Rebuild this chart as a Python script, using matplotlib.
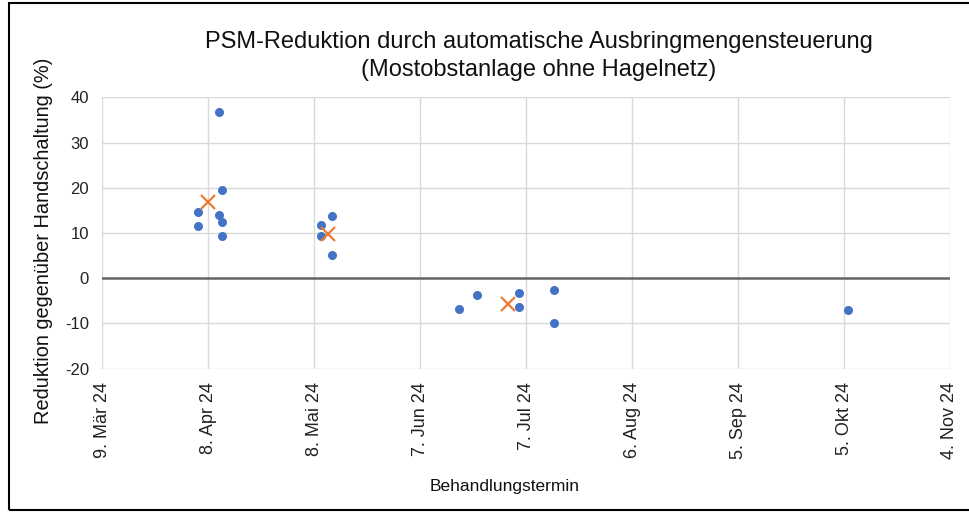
import matplotlib
matplotlib.use("Agg")
import matplotlib.pyplot as plt
import matplotlib.dates as mdates
from matplotlib.patches import Rectangle
import datetime as dt

plt.rcParams['font.family'] = ['Liberation Sans', 'DejaVu Sans']

# ---- data ----
point_dates = ["2024-04-11", "2024-04-12", "2024-04-05", "2024-04-05", "2024-04-11",
               "2024-04-12", "2024-04-12",
               "2024-05-10", "2024-05-10", "2024-05-13", "2024-05-13",
               "2024-06-18", "2024-06-23", "2024-07-05", "2024-07-05",
               "2024-07-15", "2024-07-15", "2024-10-06"]
point_values = [36.7, 19.6, 14.6, 11.6, 14.0, 12.4, 9.3,
                11.8, 9.3, 13.7, 5.2,
                -6.7, -3.7, -3.2, -6.3, -2.6, -10.0, -7.1]
mean_dates = ["2024-04-08", "2024-05-12", "2024-07-02"]
mean_values = [16.8, 9.8, -5.6]

tick_dates = ["2024-03-09", "2024-04-08", "2024-05-08", "2024-06-07", "2024-07-07",
              "2024-08-06", "2024-09-05", "2024-10-05", "2024-11-04"]
tick_labels = ["9. Mär 24", "8. Apr 24", "8. Mai 24", "7. Jun 24", "7. Jul 24",
               "6. Aug 24", "5. Sep 24", "5. Okt 24", "4. Nov 24"]
y_ticks = [-20, -10, 0, 10, 20, 30, 40]

title_line1 = "PSM-Reduktion durch automatische Ausbringmengensteuerung"
title_line2 = "(Mostobstanlage ohne Hagelnetz)"
x_label = "Behandlungstermin"
y_label = "Reduktion gegenüber Handschaltung (%)"

def to_num(s):
    return mdates.date2num(dt.datetime.strptime(s, "%Y-%m-%d"))

W, H = 969, 512
fig = plt.figure(figsize=(W / 100, H / 100), dpi=100)
ax = fig.add_axes([102.3 / W, 1 - 368.7 / H, (950 - 102.3) / W, (368.7 - 97.3) / H])

xt = [to_num(d) for d in tick_dates]
ax.set_xlim(xt[0], xt[-1])
ax.set_ylim(y_ticks[0], y_ticks[-1])
ax.set_xticks(xt)
ax.set_xticklabels(tick_labels, rotation=90, fontsize=13, color='#222222')
ax.set_yticks(y_ticks)
ax.set_yticklabels([str(v) for v in y_ticks], fontsize=12, color='#222222')
ax.tick_params(axis='both', length=0)
ax.tick_params(axis='x', pad=9.4)
ax.tick_params(axis='y', pad=9.6)
for s in ax.spines.values():
    s.set_visible(False)
ax.grid(True, color='#d9d9d9', linewidth=1.0, zorder=0)
ax.set_axisbelow(True)
ax.axhline(0, color='#666666', linewidth=1.8, zorder=1)

ax.plot([to_num(d) for d in point_dates], point_values, linestyle='none',
        marker='o', markersize=6.5, color='#4472c4', markeredgewidth=0, zorder=3)
ax.plot([to_num(d) for d in mean_dates], mean_values, linestyle='none',
        marker='x', markersize=9.5, markeredgewidth=1.6, color='#ed7d31', zorder=4)

fig.text(539 / W, 1 - 48.3 / H, title_line1, ha='center', va='baseline',
         fontsize=17, color='#111111')
fig.text(539 / W, 1 - 76 / H, title_line2, ha='center', va='baseline',
         fontsize=17, color='#111111')
fig.text(504.7 / W, 1 - 491 / H, x_label, ha='center', va='baseline',
         fontsize=12.5, color='#111111')
fig.text(44 / W, 1 - 240.5 / H, y_label, ha='center', va='center', rotation=90,
         fontsize=14.4, color='#111111')

fig.patches.append(Rectangle((9 / W, 2 / H), (W + 5 - 9) / W, (510 - 3) / H,
                             transform=fig.transFigure, fill=False,
                             edgecolor='black', linewidth=1.5, clip_on=False))

fig.savefig("out.png", dpi=100)
